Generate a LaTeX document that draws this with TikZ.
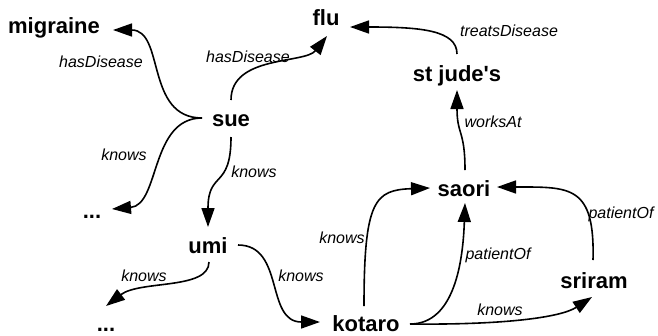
\documentclass[tikz,border=0pt]{standalone}
\usepackage{fontspec}
\setmainfont{Liberation Sans}[Ligatures=TeXOff]
\usetikzlibrary{arrows.meta,calc}
\begin{document}
\begin{tikzpicture}[x=1pt,y=-1pt,
  entity/.style={font=\fontsize{22}{24}\selectfont\bfseries, inner sep=0pt, anchor=base},
  rel/.style={font=\fontsize{16}{18}\selectfont\itshape, inner sep=0pt},
  link/.style={line width=1.6pt, -{Triangle[length=19pt,width=13pt]}}]
\useasboundingbox (0,0) rectangle (658,335);

% entities (placed on their baselines)
\node[entity] (migraine) at (54,33)  {migraine};
\node[entity] (flu)      at (326,25) {flu};
\node[entity] (stjude)   at (457,81) {st jude's};
\node[entity] (sue)      at (231,126) {sue};
\node[entity] (dotsA)    at (92,218) {...};
\node[entity] (umi)      at (208,253) {umi};
\node[entity] (dotsB)    at (106,331) {...};
\node[entity] (kotaro)   at (366,331) {kotaro};
\node[entity] (saori)    at (464,196) {saori};
\node[entity] (sriram)   at (594,288) {sriram};

% relations
\draw[link] ($(sue.base)+(-29,-8)$) .. controls +(-57,0) and +(52,0) .. ($(migraine.base)+(59,-3)$);
\draw[link] ($(sue.base)+(0,-26)$) .. controls +(0,-45) and +(-22,28) .. ($(flu.base)+(1,11)$);
\draw[link] ($(sue.base)+(-29,-8)$) .. controls +(-52,0) and +(48,-4) .. ($(dotsA.base)+(20,-9)$);
\draw[link] ($(sue.base)+(0,11)$) .. controls +(0,53) and +(0,-57) .. ($(umi.base)+(0,-26)$);
\draw[link] ($(umi.base)+(1,9)$) .. controls +(0,28) and +(34,-26) .. ($(dotsB.base)+(0,-25)$);
\draw[link] ($(umi.base)+(30,-8)$) .. controls +(47,0) and +(-55,0) .. ($(kotaro.base)+(-46,-9)$);
\draw[link] ($(kotaro.base)+(-2,-25)$) .. controls +(0,-106) and +(-55,2) .. ($(saori.base)+(-34,-8)$);
\draw[link] ($(kotaro.base)+(44,-7)$) .. controls +(45,0) and +(-2,57) .. ($(saori.base)+(1,7)$);
\draw[link] ($(kotaro.base)+(44,-7)$) .. controls +(90,1) and +(-32,21) .. ($(sriram.base)+(-2,9)$);
\draw[link] ($(sriram.base)+(-1,-28)$) .. controls +(2,-75) and +(73,0) .. ($(saori.base)+(33,-9)$);
\draw[link] ($(saori.base)+(1,-26)$) .. controls +(0,-40) and +(0,45) .. ($(stjude.base)+(0,9)$);
\draw[link] ($(stjude.base)+(0,-27)$) .. controls +(0,-24) and +(70,0) .. ($(flu.base)+(24,2)$);

% relation labels
\node[rel] (l1)  at (101,62)  {hasDisease};
\node[rel] (l2)  at (248,57)  {hasDisease};
\node[rel] (l3)  at (124,155) {knows};
\node[rel] (l4)  at (254,172) {knows};
\node[rel] (l5)  at (144,276) {knows};
\node[rel] (l6)  at (301,276) {knows};
\node[rel] (l7)  at (342,238) {knows};
\node[rel] (l8)  at (498,255) {patientOf};
\node[rel] (l9)  at (500,310) {knows};
\node[rel] (l10) at (621,214) {patientOf};
\node[rel] (l11) at (493,122) {worksAt};
\node[rel] (l12) at (509,31)  {treatsDisease};
\end{tikzpicture}
\end{document}
